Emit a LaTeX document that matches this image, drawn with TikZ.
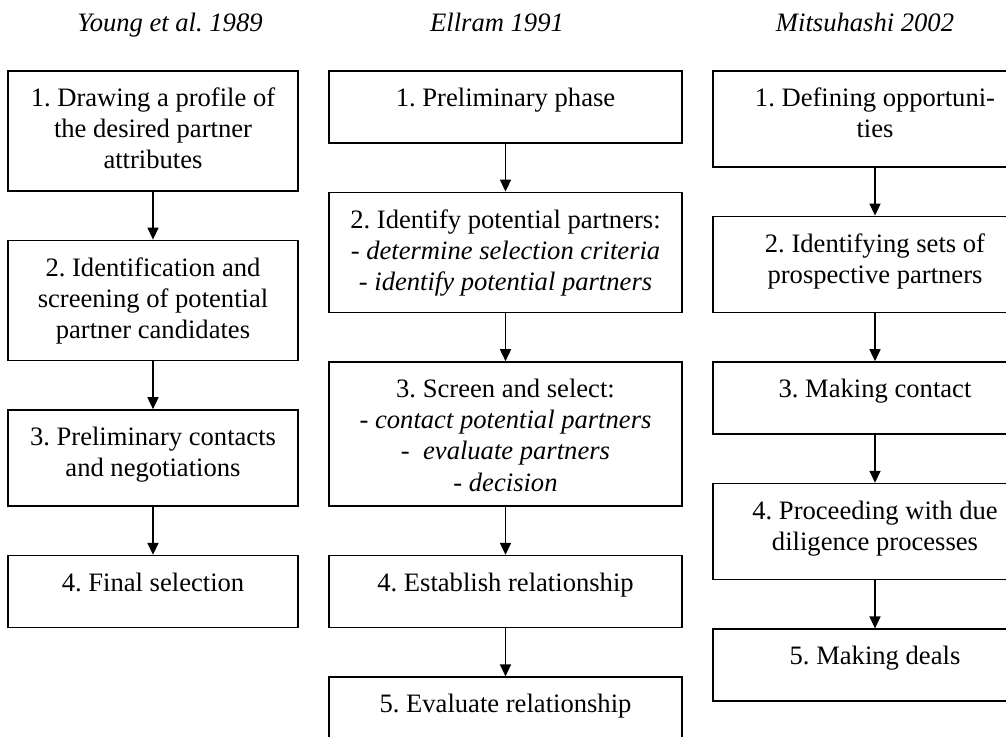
\documentclass[tikz,border=0pt]{standalone}
\usepackage{fontspec}
\setmainfont{Liberation Serif}
\usetikzlibrary{arrows.meta}
\usetikzlibrary{positioning}
\frenchspacing

\tikzset{
stage/.style={draw, line width=0.8pt, anchor=north, inner sep=0pt},
colY/.style={stage, minimum width=145pt},
colE/.style={stage, minimum width=176.5pt},
colM/.style={stage, minimum width=162pt},
stagetext/.style={anchor=north, inner sep=0pt, yshift=-8.7pt, align=center, font=\fontsize{13.3}{15.6}\selectfont},
source/.style={anchor=base, inner sep=0pt, font=\fontsize{13.3}{15.6}\selectfont\itshape},
flow/.style={line width=0.8pt, -{Triangle[width=5.5pt,length=6pt]}}
}

\begin{document}
\begin{tikzpicture}[x=0.5pt, y=-0.5pt]
\useasboundingbox (0,0) rectangle (1006,737);
\clip (0,0) rectangle (1006,737);

\node[source] (tY) at (170,32) {Young et al. 1989};
\node[source] (tE) at (497,32) {Ellram 1991};
\node[source] (tM) at (865,32) {Mitsuhashi 2002};

% Young et al.
\node[colY, minimum height=60pt, label={[stagetext]north:{1. Drawing a profile of\\the desired partner\\attributes}}] (y1) at (153,70) {};
\node[colY, minimum height=60pt, below=24pt of y1, label={[stagetext]north:{2. Identification and\\screening of potential\\partner candidates}}] (y2) {};
\node[colY, minimum height=48pt, below=24pt of y2, label={[stagetext]north:{3. Preliminary contacts\\and negotiations}}] (y3) {};
\node[colY, minimum height=36pt, below=24pt of y3, label={[stagetext]north:{4. Final selection}}] (y4) {};

% Ellram
\node[colE, minimum height=36pt, label={[stagetext]north:{1. Preliminary phase}}] (e1) at (505.5,70) {};
\node[colE, minimum height=60pt, below=24pt of e1, label={[stagetext]north:{2. Identify potential partners:\\- \textit{determine selection criteria}\\- \textit{identify potential partners}}}] (e2) {};
\node[colE, minimum height=72pt, below=24pt of e2, label={[stagetext]north:{3. Screen and select:\\- \textit{contact potential partners}\\-\ \ \textit{evaluate partners}\\- \textit{decision}}}] (e3) {};
\node[colE, minimum height=36pt, below=24pt of e3, label={[stagetext]north:{4. Establish relationship}}] (e4) {};
\node[colE, minimum height=36pt, below=24pt of e4, label={[stagetext]north:{5. Evaluate relationship}}] (e5) {};

% Mitsuhashi
\node[colM, minimum height=48pt, label={[stagetext]north:{1. Defining opportuni-\\ties}}] (m1) at (875,70) {};
\node[colM, minimum height=48pt, below=24pt of m1, label={[stagetext]north:{2. Identifying sets of\\prospective partners}}] (m2) {};
\node[colM, minimum height=36pt, below=24pt of m2, label={[stagetext]north:{3. Making contact}}] (m3) {};
\node[colM, minimum height=48pt, below=24pt of m3, label={[stagetext]north:{4. Proceeding with due\\diligence processes}}] (m4) {};
\node[colM, minimum height=36pt, below=24pt of m4, label={[stagetext]north:{5. Making deals}}] (m5) {};

\foreach \a/\b in {y1/y2,y2/y3,y3/y4,e1/e2,e2/e3,e3/e4,e4/e5,m1/m2,m2/m3,m3/m4,m4/m5}
  \draw[flow] (\a) -- (\b);

\end{tikzpicture}
\end{document}
